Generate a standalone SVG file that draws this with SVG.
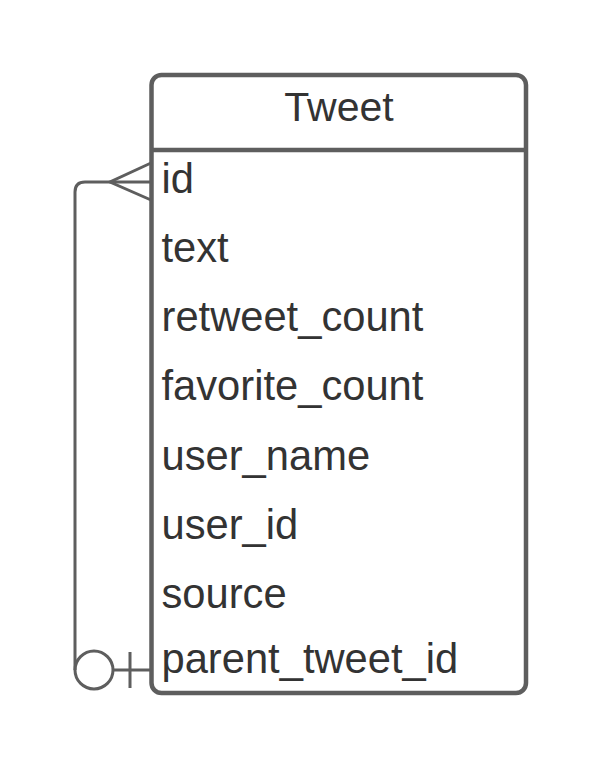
<svg xmlns="http://www.w3.org/2000/svg" width="604" height="771" viewBox="0 0 604 771">
<style>
.box{fill:#fff;stroke:#5e5e5e;stroke-width:4.5}
.div{stroke:#5e5e5e;stroke-width:4.5}
.t{font-family:"Liberation Sans",Arial,sans-serif;font-size:41.7px;fill:#333}
.h{font-size:41px}
.c{fill:none;stroke:#5e5e5e;stroke-width:3}
</style>
<rect width="604" height="771" fill="#fff"/>
<g id="connectors">
<path class="c" d="M151,182 H85 Q75,182 75,192 V670"/>
<path class="c" d="M151,163 L110,182 L151,200"/>
<circle class="c" cx="94" cy="670" r="19"/>
<path class="c" d="M113,670 H151 M130,652 V688"/>
</g>
<g id="tweet">
<rect class="box" x="151.5" y="75" width="374.5" height="618" rx="10"/>
<line class="div" x1="151.5" y1="150" x2="526" y2="150"/>
<text class="t h" x="339" y="121" text-anchor="middle">Tweet</text>
<text class="t" x="161.5" y="193">id</text>
<text class="t" x="161.5" y="262">text</text>
<text class="t" x="161.5" y="331">retweet_count</text>
<text class="t" x="161.5" y="400">favorite_count</text>
<text class="t" x="161.5" y="470">user_name</text>
<text class="t" x="161.5" y="539">user_id</text>
<text class="t" x="161.5" y="608">source</text>
<text class="t" x="161.5" y="673">parent_tweet_id</text>
</g>
</svg>
